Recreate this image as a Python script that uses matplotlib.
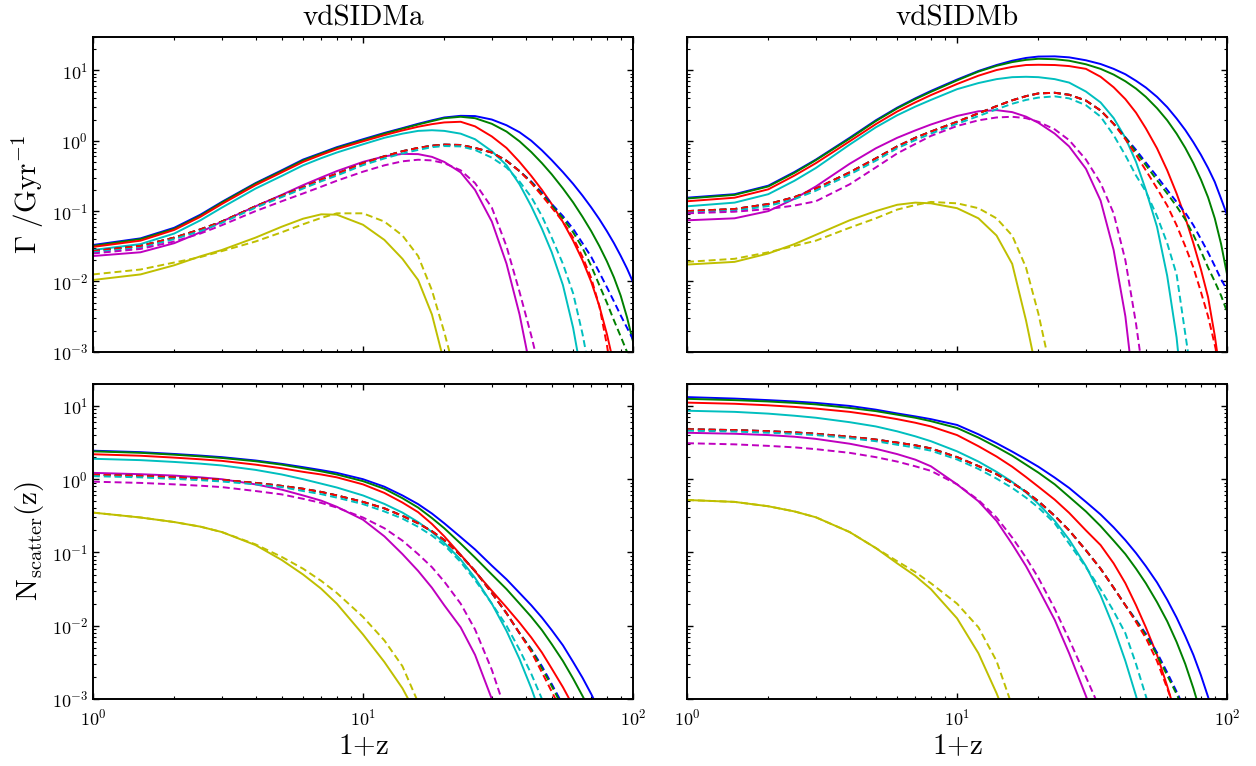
import matplotlib
matplotlib.use('Agg')
import matplotlib.pyplot as plt

# 1+z sampling shared by every curve (lists stop once a curve leaves the axes)
z = [1, 1.5, 2, 2.5, 3, 4, 5, 6, 7, 8, 10, 12, 14, 16, 18, 20, 23, 26, 30, 34,
     38, 42, 46, 50, 55, 60, 65, 70, 75, 80, 85, 90, 95, 100]

colours = ['b', 'g', 'r', 'c', 'm', 'y']

# ---- vdSIDMa : scattering rate Gamma [1/Gyr] ----
rate_a_solid = [
    [0.033, 0.041, 0.058, 0.089, 0.135, 0.25, 0.38, 0.54, 0.67, 0.81, 1.05, 1.29, 1.51, 1.74, 1.95, 2.14, 2.26,
     2.24, 2.0, 1.66, 1.32, 1.0, 0.73, 0.53, 0.358, 0.244, 0.166, 0.113, 0.077, 0.052, 0.035, 0.0232, 0.0153, 0.0098],
    [0.032, 0.040, 0.056, 0.086, 0.132, 0.245, 0.37, 0.525, 0.655, 0.79, 1.02, 1.26, 1.48, 1.7, 1.9, 2.09, 2.19,
     2.09, 1.74, 1.35, 0.98, 0.69, 0.48, 0.333, 0.21, 0.133, 0.083, 0.052, 0.032, 0.0194, 0.0114, 0.0063, 0.0031, 0.0014],
    [0.031, 0.038, 0.054, 0.083, 0.126, 0.234, 0.355, 0.5, 0.63, 0.76, 0.98, 1.2, 1.4, 1.58, 1.72, 1.82, 1.86,
     1.6, 1.15, 0.79, 0.5, 0.316, 0.2, 0.126, 0.07, 0.038, 0.02, 0.0099, 0.0045, 0.0018, 0.00065],
    [0.028, 0.034, 0.048, 0.074, 0.112, 0.209, 0.316, 0.447, 0.565, 0.68, 0.89, 1.1, 1.26, 1.38, 1.41, 1.38, 1.26,
     1.05, 0.71, 0.45, 0.24, 0.117, 0.056, 0.026, 0.0089, 0.0022, 0.0004],
    [0.023, 0.026, 0.035, 0.05, 0.071, 0.117, 0.17, 0.234, 0.3, 0.37, 0.5, 0.6, 0.65, 0.645, 0.59, 0.5, 0.355,
     0.2, 0.071, 0.0179, 0.0034, 0.0005],
    [0.0105, 0.0126, 0.017, 0.0228, 0.028, 0.042, 0.06, 0.078, 0.09, 0.089, 0.064, 0.039, 0.021, 0.0105, 0.0034,
     0.0007],
]
rate_a_dashed = [
    [0.027, 0.032, 0.042, 0.055, 0.071, 0.117, 0.166, 0.219, 0.28, 0.34, 0.48, 0.6, 0.71, 0.79, 0.85, 0.88, 0.87,
     0.79, 0.68, 0.52, 0.37, 0.263, 0.182, 0.126, 0.085, 0.056, 0.035, 0.0224, 0.0135, 0.0083, 0.0052, 0.0033, 0.0022, 0.0015],
    [0.027, 0.032, 0.042, 0.055, 0.071, 0.117, 0.166, 0.219, 0.28, 0.34, 0.48, 0.6, 0.71, 0.79, 0.85, 0.88, 0.87,
     0.79, 0.68, 0.52, 0.37, 0.257, 0.174, 0.12, 0.079, 0.05, 0.03, 0.0166, 0.0089, 0.005, 0.0028, 0.00166, 0.001, 0.00056],
    [0.027, 0.032, 0.042, 0.055, 0.071, 0.117, 0.166, 0.219, 0.28, 0.34, 0.48, 0.6, 0.71, 0.79, 0.85, 0.88, 0.87,
     0.79, 0.68, 0.52, 0.37, 0.25, 0.166, 0.112, 0.071, 0.042, 0.0224, 0.0112, 0.0045, 0.00126, 0.0003],
    [0.026, 0.030, 0.040, 0.052, 0.068, 0.112, 0.158, 0.209, 0.265, 0.32, 0.45, 0.56, 0.66, 0.74, 0.81, 0.84, 0.83,
     0.74, 0.575, 0.417, 0.263, 0.158, 0.085, 0.042, 0.0178, 0.0068, 0.0018, 0.0004],
    [0.025, 0.029, 0.037, 0.048, 0.063, 0.1, 0.138, 0.178, 0.222, 0.27, 0.363, 0.447, 0.51, 0.537, 0.525, 0.48, 0.38,
     0.25, 0.112, 0.0316, 0.0071, 0.0017, 0.0004],
    [0.0126, 0.0148, 0.0186, 0.0222, 0.027, 0.037, 0.05, 0.065, 0.08, 0.093, 0.093, 0.071, 0.045, 0.023, 0.0075,
     0.0019, 0.00025],
]

# ---- vdSIDMb : scattering rate Gamma [1/Gyr] ----
rate_b_solid = [
    [0.155, 0.174, 0.23, 0.36, 0.54, 1.1, 1.95, 2.95, 4.0, 5.1, 7.4, 9.8, 11.9, 13.7, 15.0, 15.7, 15.8,
     15.3, 13.9, 12.3, 10.5, 8.8, 7.1, 5.7, 4.2, 3.0, 2.07, 1.42, 0.95, 0.63, 0.41, 0.26, 0.15, 0.088],
    [0.151, 0.17, 0.224, 0.35, 0.53, 1.07, 1.9, 2.88, 3.9, 4.95, 7.2, 9.6, 11.6, 13.1, 14.1, 14.6, 14.4,
     13.7, 12.2, 10.5, 8.7, 7.0, 5.5, 4.2, 2.9, 1.95, 1.26, 0.79, 0.48, 0.28, 0.157, 0.079, 0.034, 0.0125],
    [0.138, 0.155, 0.204, 0.32, 0.48, 0.98, 1.72, 2.6, 3.5, 4.45, 6.4, 8.4, 10.1, 11.2, 11.9, 12.0, 11.9,
     11.5, 10.5, 8.1, 5.75, 3.9, 2.5, 1.5, 0.78, 0.38, 0.178, 0.081, 0.035, 0.0148, 0.006, 0.0017, 0.0004],
    [0.117, 0.132, 0.174, 0.27, 0.41, 0.88, 1.55, 2.3, 3.05, 3.8, 5.4, 6.6, 7.5, 8.0, 8.1, 8.0, 7.5,
     6.7, 5.0, 3.5, 2.1, 1.1, 0.5, 0.2, 0.06, 0.012, 0.0016, 0.0001],
    [0.074, 0.079, 0.1, 0.15, 0.224, 0.47, 0.78, 1.1, 1.4, 1.7, 2.25, 2.62, 2.72, 2.55, 2.2, 1.8, 1.26,
     0.83, 0.4, 0.141, 0.028, 0.0032, 0.00016],
    [0.0174, 0.019, 0.025, 0.034, 0.046, 0.074, 0.1, 0.123, 0.132, 0.129, 0.11, 0.079, 0.045, 0.0178, 0.0028,
     0.0004],
]
rate_b_dashed = [
    [0.1, 0.107, 0.126, 0.158, 0.209, 0.355, 0.56, 0.83, 1.1, 1.35, 1.86, 2.45, 3.1, 3.75, 4.3, 4.7, 4.8,
     4.5, 3.72, 2.69, 1.74, 1.12, 0.74, 0.49, 0.31, 0.2, 0.135, 0.095, 0.063, 0.04, 0.026, 0.0166, 0.0107, 0.0076],
    [0.1, 0.107, 0.126, 0.158, 0.209, 0.355, 0.56, 0.83, 1.1, 1.35, 1.86, 2.45, 3.1, 3.75, 4.3, 4.7, 4.8,
     4.5, 3.72, 2.69, 1.74, 1.1, 0.69, 0.45, 0.275, 0.178, 0.117, 0.076, 0.046, 0.027, 0.0158, 0.01, 0.0063, 0.0037],
    [0.1, 0.107, 0.126, 0.158, 0.209, 0.355, 0.56, 0.83, 1.1, 1.35, 1.86, 2.45, 3.1, 3.75, 4.3, 4.7, 4.8,
     4.5, 3.72, 2.69, 1.74, 1.05, 0.63, 0.38, 0.21, 0.12, 0.063, 0.0316, 0.0158, 0.0071, 0.0032, 0.00126, 0.0005],
    [0.095, 0.101, 0.118, 0.148, 0.195, 0.33, 0.52, 0.78, 1.02, 1.26, 1.74, 2.24, 2.8, 3.35, 3.8, 4.1, 4.27,
     4.0, 3.2, 2.2, 1.2, 0.62, 0.32, 0.19, 0.085, 0.035, 0.0126, 0.0018, 0.0003],
    [0.093, 0.098, 0.107, 0.12, 0.138, 0.24, 0.417, 0.66, 0.9, 1.17, 1.62, 1.95, 2.14, 2.19, 2.09, 1.86, 1.45,
     1.02, 0.54, 0.25, 0.093, 0.02, 0.0025, 0.00025],
    [0.019, 0.021, 0.026, 0.032, 0.038, 0.058, 0.079, 0.105, 0.122, 0.135, 0.129, 0.11, 0.079, 0.045, 0.0158,
     0.0035, 0.0003],
]

# ---- vdSIDMa : N_scatter(z) ----
nsc_a_solid = [
    [2.45, 2.34, 2.21, 2.1, 2.0, 1.8, 1.62, 1.46, 1.33, 1.22, 1.0, 0.79, 0.6, 0.457, 0.34, 0.25, 0.162,
     0.11, 0.066, 0.043, 0.028, 0.019, 0.0129, 0.0087, 0.0054, 0.0032, 0.00195, 0.00117, 0.0007],
    [2.4, 2.29, 2.16, 2.05, 1.95, 1.76, 1.58, 1.41, 1.28, 1.16, 0.94, 0.74, 0.55, 0.41, 0.295, 0.214, 0.132,
     0.085, 0.05, 0.0316, 0.02, 0.0132, 0.0087, 0.0056, 0.0033, 0.0019, 0.0011, 0.00066],
    [2.19, 2.09, 1.97, 1.87, 1.78, 1.58, 1.41, 1.26, 1.16, 1.06, 0.85, 0.65, 0.48, 0.355, 0.245, 0.166, 0.093,
     0.055, 0.03, 0.0178, 0.011, 0.0069, 0.0043, 0.0026, 0.00145, 0.0008],
    [1.9, 1.82, 1.72, 1.63, 1.54, 1.34, 1.16, 1.0, 0.87, 0.77, 0.6, 0.46, 0.35, 0.26, 0.19, 0.135, 0.08,
     0.045, 0.02, 0.0085, 0.0035, 0.0014, 0.00055],
    [1.22, 1.17, 1.12, 1.06, 1.0, 0.85, 0.72, 0.6, 0.51, 0.42, 0.28, 0.166, 0.095, 0.056, 0.033, 0.019, 0.0095,
     0.004, 0.001, 0.00025],
    [0.35, 0.3, 0.26, 0.225, 0.19, 0.126, 0.079, 0.05, 0.032, 0.02, 0.0076, 0.0032, 0.0014, 0.00056],
]
nsc_a_dashed = [
    [1.15, 1.11, 1.06, 1.02, 0.98, 0.89, 0.81, 0.74, 0.67, 0.6, 0.49, 0.4, 0.316, 0.25, 0.195, 0.148, 0.091,
     0.056, 0.028, 0.0148, 0.0079, 0.0048, 0.0028, 0.0016, 0.00083],
    [1.15, 1.11, 1.06, 1.02, 0.98, 0.89, 0.81, 0.74, 0.67, 0.6, 0.49, 0.4, 0.316, 0.25, 0.195, 0.148, 0.091,
     0.056, 0.028, 0.0148, 0.0079, 0.0047, 0.0026, 0.0015, 0.00076],
    [1.15, 1.11, 1.06, 1.02, 0.98, 0.89, 0.81, 0.74, 0.67, 0.6, 0.49, 0.4, 0.316, 0.25, 0.195, 0.148, 0.091,
     0.056, 0.028, 0.0148, 0.0079, 0.0044, 0.0023, 0.00126, 0.00063],
    [1.1, 1.06, 1.01, 0.97, 0.93, 0.85, 0.78, 0.69, 0.625, 0.56, 0.457, 0.363, 0.29, 0.224, 0.17, 0.126, 0.074,
     0.042, 0.02, 0.01, 0.0047, 0.0022, 0.001, 0.0005],
    [0.925, 0.89, 0.85, 0.815, 0.78, 0.69, 0.62, 0.54, 0.475, 0.41, 0.3, 0.214, 0.145, 0.095, 0.063, 0.04, 0.02,
     0.0089, 0.0025, 0.00063],
    [0.35, 0.3, 0.26, 0.225, 0.19, 0.129, 0.087, 0.06, 0.041, 0.028, 0.0132, 0.0063, 0.0028, 0.0009],
]

# ---- vdSIDMb : N_scatter(z) ----
nsc_b_solid = [
    [13.2, 12.6, 12.0, 11.5, 11.0, 10.0, 8.9, 7.9, 7.2, 6.6, 5.5, 4.1, 3.1, 2.38, 1.86, 1.48, 1.05,
     0.76, 0.49, 0.33, 0.22, 0.147, 0.098, 0.065, 0.039, 0.0226, 0.0129, 0.0072, 0.004, 0.0021, 0.00107, 0.00054],
    [12.5, 12.0, 11.5, 11.0, 10.5, 9.4, 8.5, 7.6, 6.9, 6.2, 5.0, 3.7, 2.75, 2.09, 1.58, 1.23, 0.85,
     0.575, 0.363, 0.229, 0.145, 0.095, 0.06, 0.038, 0.021, 0.0115, 0.006, 0.003, 0.0014, 0.00063],
    [11.1, 10.7, 10.2, 9.7, 9.2, 8.3, 7.4, 6.6, 5.9, 5.25, 4.0, 2.82, 2.04, 1.48, 1.07, 0.79, 0.525,
     0.347, 0.2, 0.126, 0.071, 0.038, 0.019, 0.0095, 0.004, 0.0015, 0.00056],
    [8.6, 8.3, 7.85, 7.35, 6.9, 6.0, 5.25, 4.5, 3.85, 3.3, 2.4, 1.74, 1.26, 0.92, 0.66, 0.46, 0.27,
     0.15, 0.065, 0.026, 0.0095, 0.0033, 0.0011, 0.00035],
    [4.3, 4.17, 4.0, 3.8, 3.55, 3.05, 2.6, 2.2, 1.85, 1.5, 0.85, 0.5, 0.27, 0.13, 0.065, 0.032, 0.012,
     0.0042, 0.0011, 0.0003],
    [0.52, 0.49, 0.427, 0.363, 0.302, 0.19, 0.115, 0.071, 0.048, 0.0316, 0.0126, 0.0042, 0.0012, 0.00035],
]
nsc_b_dashed = [
    [4.8, 4.68, 4.52, 4.35, 4.17, 3.8, 3.47, 3.16, 2.9, 2.63, 2.0, 1.51, 1.17, 0.89, 0.676, 0.5, 0.316,
     0.2, 0.107, 0.06, 0.033, 0.019, 0.012, 0.0078, 0.0043, 0.0023, 0.00126, 0.0007],
    [4.8, 4.68, 4.52, 4.35, 4.17, 3.8, 3.47, 3.16, 2.9, 2.63, 2.0, 1.51, 1.17, 0.89, 0.676, 0.5, 0.316,
     0.2, 0.107, 0.06, 0.033, 0.019, 0.0117, 0.0074, 0.004, 0.0021, 0.00117, 0.00063],
    [4.8, 4.68, 4.52, 4.35, 4.17, 3.8, 3.47, 3.16, 2.9, 2.63, 2.0, 1.51, 1.17, 0.89, 0.676, 0.5, 0.316,
     0.2, 0.107, 0.06, 0.033, 0.019, 0.0112, 0.0068, 0.0033, 0.0014, 0.00063],
    [4.6, 4.47, 4.3, 4.15, 4.0, 3.63, 3.3, 2.95, 2.7, 2.45, 1.86, 1.38, 1.02, 0.76, 0.56, 0.41, 0.25,
     0.132, 0.063, 0.0316, 0.0158, 0.0079, 0.003, 0.0011, 0.0003],
    [3.1, 2.99, 2.85, 2.72, 2.57, 2.29, 2.0, 1.74, 1.5, 1.3, 0.85, 0.52, 0.3, 0.16, 0.085, 0.045, 0.017,
     0.0065, 0.002, 0.0007],
    [0.52, 0.49, 0.427, 0.363, 0.302, 0.19, 0.115, 0.076, 0.054, 0.038, 0.02, 0.0095, 0.0033, 0.0008],
]

plt.rcParams.update({
    'font.family': 'serif',
    'font.serif': ['cmr10'],
    'mathtext.fontset': 'cm',
    'axes.formatter.use_mathtext': True,
    'axes.linewidth': 1.4,
    'lines.scale_dashes': False,
})

fig, axes = plt.subplots(2, 2, figsize=(12.56, 7.66), dpi=100, sharex=True, sharey='row')
fig.subplots_adjust(left=0.074, right=0.977, top=0.952, bottom=0.0875, wspace=0.1, hspace=0.1016)


def draw(ax, solid, dashed):
    for col, vals in zip(colours, solid):
        ax.plot(z[:len(vals)], vals, color=col, lw=1.4)
    for col, vals in zip(colours, dashed):
        ax.plot(z[:len(vals)], vals, color=col, lw=1.4, dashes=(5, 2.8))


draw(axes[0, 0], rate_a_solid, rate_a_dashed)
draw(axes[0, 1], rate_b_solid, rate_b_dashed)
draw(axes[1, 0], nsc_a_solid, nsc_a_dashed)
draw(axes[1, 1], nsc_b_solid, nsc_b_dashed)

for ax in axes.flat:
    ax.set_xscale('log')
    ax.set_yscale('log')
    ax.set_xlim(1, 100)
    ax.tick_params(which='both', direction='in', top=True, right=True, labelsize=13)
    ax.tick_params(which='major', length=4.5, width=1)
    ax.tick_params(which='minor', length=2.3, width=0.8)
    ax.tick_params(axis='x', pad=6)

axes[0, 0].set_ylim(1e-3, 30)
axes[1, 0].set_ylim(1e-3, 20)

axes[0, 0].set_title('vdSIDMa', fontsize=21, pad=8)
axes[0, 1].set_title('vdSIDMb', fontsize=21, pad=8)
axes[0, 0].set_ylabel(r'$\Gamma\ /\mathrm{Gyr}^{-1}$', fontsize=21)
axes[1, 0].set_ylabel(r'$\mathrm{N_{scatter}(z)}$', fontsize=21)
axes[1, 0].set_xlabel(r'$\mathrm{1{+}z}$', fontsize=21)
axes[1, 1].set_xlabel(r'$\mathrm{1{+}z}$', fontsize=21)

fig.savefig('out.png', dpi=100)
